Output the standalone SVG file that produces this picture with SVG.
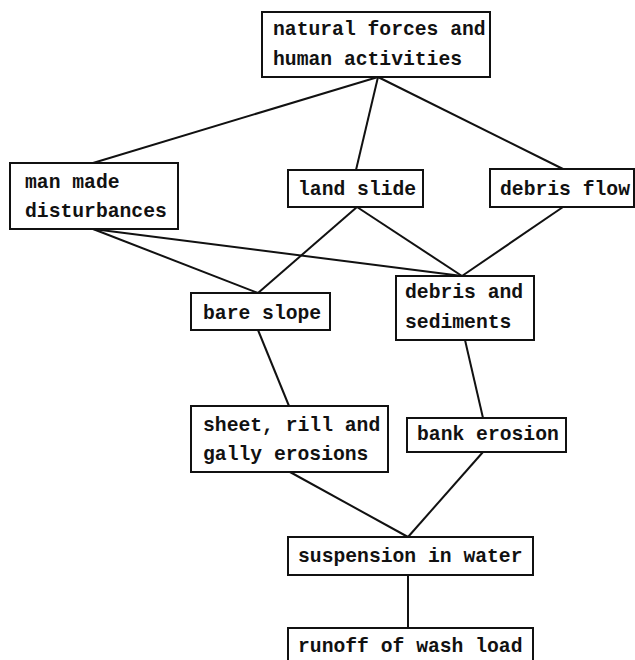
<svg xmlns="http://www.w3.org/2000/svg" width="635" height="660" viewBox="0 0 635 660">
<style>
.box{fill:#fff;stroke:#111;stroke-width:2}
.lbl{font-family:"Liberation Mono","DejaVu Sans Mono",monospace;font-size:19.7px;font-weight:bold;fill:#111}
.edge{stroke:#111;stroke-width:2;fill:none}
</style>
<rect width="635" height="660" fill="#fff"/>
<g id="connectors">
<line class="edge" x1="378" y1="77" x2="93" y2="163"/>
<line class="edge" x1="378" y1="77" x2="356" y2="170"/>
<line class="edge" x1="378" y1="77" x2="563" y2="169"/>
<line class="edge" x1="93" y1="229" x2="258" y2="293"/>
<line class="edge" x1="93" y1="229" x2="462" y2="276"/>
<line class="edge" x1="357" y1="207" x2="258" y2="293"/>
<line class="edge" x1="357" y1="207" x2="462" y2="276"/>
<line class="edge" x1="563" y1="207" x2="462" y2="276"/>
<line class="edge" x1="258" y1="330" x2="289" y2="406"/>
<line class="edge" x1="465" y1="340" x2="483" y2="418"/>
<line class="edge" x1="290" y1="472" x2="408" y2="537"/>
<line class="edge" x1="483" y1="452" x2="408" y2="537"/>
<line class="edge" x1="408" y1="575" x2="408" y2="628"/>
</g>
<g id="natural">
<rect class="box" x="262" y="12" width="228" height="65"/>
<text class="lbl" x="273" y="35">natural forces and</text>
<text class="lbl" x="273" y="65">human activities</text>
</g>
<g id="manmade">
<rect class="box" x="10" y="163" width="168" height="66"/>
<text class="lbl" x="25" y="188">man made</text>
<text class="lbl" x="25" y="217">disturbances</text>
</g>
<g id="landslide">
<rect class="box" x="288" y="170" width="135" height="37"/>
<text class="lbl" x="298" y="195">land slide</text>
</g>
<g id="debrisflow">
<rect class="box" x="490" y="169" width="144" height="38"/>
<text class="lbl" x="500" y="195">debris flow</text>
</g>
<g id="bareslope">
<rect class="box" x="191" y="293" width="139" height="37"/>
<text class="lbl" x="203" y="319">bare slope</text>
</g>
<g id="debrissed">
<rect class="box" x="396" y="276" width="138" height="64"/>
<text class="lbl" x="405" y="298">debris and</text>
<text class="lbl" x="405" y="328">sediments</text>
</g>
<g id="sheet">
<rect class="box" x="191" y="406" width="197" height="66"/>
<text class="lbl" x="203" y="431">sheet, rill and</text>
<text class="lbl" x="203" y="460">gally erosions</text>
</g>
<g id="bank">
<rect class="box" x="407" y="418" width="159" height="34"/>
<text class="lbl" x="417" y="440">bank erosion</text>
</g>
<g id="suspension">
<rect class="box" x="288" y="537" width="245" height="38"/>
<text class="lbl" x="298" y="562">suspension in water</text>
</g>
<g id="runoff">
<rect class="box" x="288" y="628" width="245" height="40"/>
<text class="lbl" x="298" y="652">runoff of wash load</text>
</g>
</svg>
